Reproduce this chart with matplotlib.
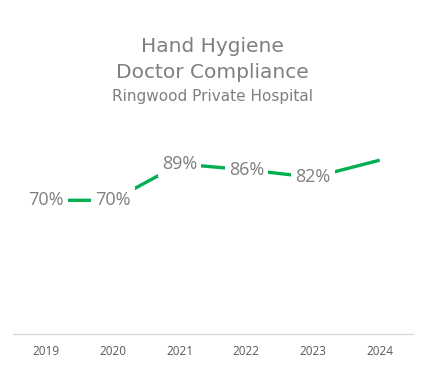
import matplotlib.pyplot as plt

years = ['2019', '2020', '2021', '2022', '2023', '2024']
compliance = [70, 70, 89, 86, 82, 91]
labels = ['70%', '70%', '89%', '86%', '82%', '']

GREEN = '#00b050'
GRAY = '#7f7f7f'

fig = plt.figure(figsize=(4.24, 3.65), dpi=100)
ax = fig.add_axes([13 / 424, 31 / 365, 400 / 424, 191 / 365])

x = list(range(len(years)))
ax.plot(x, compliance, color=GREEN, linewidth=2.4, solid_capstyle='butt', zorder=2)

for xi, yi, lab in zip(x, compliance, labels):
    if lab:
        ax.text(xi, yi, lab, ha='center', va='center', fontsize=13, color=GRAY,
                family='Open Sans', zorder=3,
                bbox=dict(facecolor='white', edgecolor='none', pad=3))

ax.set_xlim(-0.5, 5.5)
ax.set_ylim(0, 100)
ax.set_xticks(x)
ax.set_xticklabels(years, fontsize=8.5, color='#595959', family='Open Sans')
ax.tick_params(axis='x', length=0, pad=8)
ax.set_yticks([])
for side in ['top', 'left', 'right']:
    ax.spines[side].set_visible(False)
ax.spines['bottom'].set_color('#d9d9d9')
ax.spines['bottom'].set_linewidth(1)

# title block (Century Gothic look -> wide sans)
fig.text(0.5, 1 - 47 / 365, 'Hand Hygiene', ha='center', va='center',
         fontsize=14.5, color=GRAY, family='DejaVu Sans')
fig.text(0.5, 1 - 73 / 365, 'Doctor Compliance', ha='center', va='center',
         fontsize=14.5, color=GRAY, family='DejaVu Sans')
fig.text(0.5, 1 - 96 / 365, 'Ringwood Private Hospital', ha='center', va='center',
         fontsize=11, color=GRAY, family='DejaVu Sans')

fig.savefig('out.png', dpi=100)
